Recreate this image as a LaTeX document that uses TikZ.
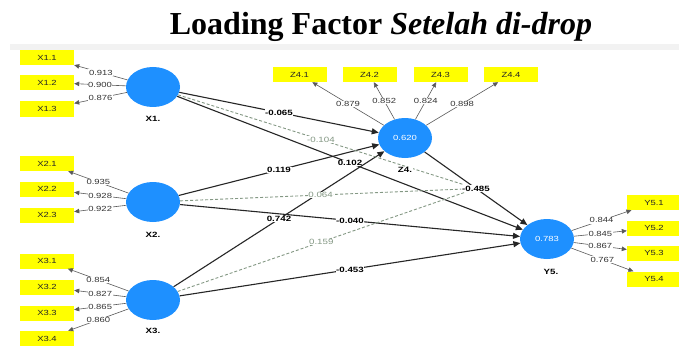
\documentclass[tikz,border=0pt]{standalone}
\usepackage{fontspec}
\setmainfont{Liberation Serif}
\newfontfamily\dsf[FakeStretch=1.28]{Liberation Sans}
\usetikzlibrary{shapes.geometric,arrows.meta}
\definecolor{lvblue}{HTML}{1E90FF}
\definecolor{mvyellow}{HTML}{FFFF00}
\definecolor{modgreen}{HTML}{849884}
\definecolor{ldgray}{HTML}{5A5A5A}
\definecolor{bandgray}{HTML}{F2F2F2}
\begin{document}
\begin{tikzpicture}[x=1pt,y=-1pt,
  lv/.style={ellipse, fill=lvblue, minimum width=54pt, minimum height=40pt, inner sep=0pt, text=white, font=\dsf\fontsize{7.4}{8}\selectfont},
  mv/.style={rectangle, fill=mvyellow, minimum width=54pt, minimum height=15pt, inner sep=0pt, text=black!85, font=\dsf\fontsize{7.4}{8}\selectfont},
  lvname/.style={inner sep=0.5pt, fill=white, font=\dsf\bfseries\fontsize{7.6}{8}\selectfont},
  load/.style={draw=ldgray, line width=0.6pt, -{Triangle[length=5pt,width=4.5pt]}},
  loadlbl/.style={fill=white, inner sep=0.6pt, text=black!80, font=\dsf\fontsize{7.4}{8}\selectfont},
  struct/.style={draw=black!85, line width=1.1pt, -{Triangle[length=7pt,width=6pt]}},
  structlbl/.style={fill=white, inner sep=0.6pt, text=black, font=\dsf\bfseries\fontsize{7.6}{8}\selectfont},
  moder/.style={draw=modgreen, line width=0.9pt, dash pattern=on 3pt off 2pt},
  moderlbl/.style={fill=white, inner sep=0.6pt, text=modgreen, font=\dsf\fontsize{7.6}{8}\selectfont}
]
\useasboundingbox (0,0) rectangle (679,350);
\fill[white] (0,0) rectangle (679,350);
\fill[bandgray] (10,44) rectangle (679,50);

\node[anchor=base] (title) at (381,35) {\fontsize{32}{35}\selectfont\bfseries Loading Factor \textit{Setelah di-drop}};

% latent variables
\node[lv] (X1) at (153,87) {};
\node[lv] (X2) at (153,202) {};
\node[lv] (X3) at (153,300) {};
\node[lv] (Z4) at (405,138) {0.620};
\node[lv] (Y5) at (547,239) {0.783};

% indicators
\node[mv] (X11) at (47,57.5) {X1.1};
\node[mv] (X12) at (47,82.5) {X1.2};
\node[mv] (X13) at (47,109) {X1.3};
\node[mv] (X21) at (47,163.5) {X2.1};
\node[mv] (X22) at (47,189) {X2.2};
\node[mv] (X23) at (47,215) {X2.3};
\node[mv] (X31) at (47,261) {X3.1};
\node[mv] (X32) at (47,287) {X3.2};
\node[mv] (X33) at (47,313) {X3.3};
\node[mv] (X34) at (47,338.5) {X3.4};
\node[mv] (Z41) at (299.5,74.5) {Z4.1};
\node[mv] (Z42) at (369.5,74.5) {Z4.2};
\node[mv] (Z43) at (440.5,74.5) {Z4.3};
\node[mv] (Z44) at (511,74.5) {Z4.4};
\node[mv] (Y51) at (654,202.5) {Y5.1};
\node[mv] (Y52) at (654,228) {Y5.2};
\node[mv] (Y53) at (654,253) {Y5.3};
\node[mv] (Y54) at (654,279) {Y5.4};

% loadings
\draw[load] (X1) -- node[loadlbl]{0.913} (X11);
\draw[load] (X1) -- node[loadlbl]{0.900} (X12);
\draw[load] (X1) -- node[loadlbl]{0.876} (X13);
\draw[load] (X2) -- node[loadlbl]{0.935} (X21);
\draw[load] (X2) -- node[loadlbl]{0.928} (X22);
\draw[load] (X2) -- node[loadlbl]{0.922} (X23);
\draw[load] (X3) -- node[loadlbl]{0.854} (X31);
\draw[load] (X3) -- node[loadlbl]{0.827} (X32);
\draw[load] (X3) -- node[loadlbl]{0.865} (X33);
\draw[load] (X3) -- node[loadlbl]{0.860} (X34);
\draw[load] (Z4) -- node[loadlbl]{0.879} (Z41);
\draw[load] (Z4) -- node[loadlbl]{0.852} (Z42);
\draw[load] (Z4) -- node[loadlbl]{0.824} (Z43);
\draw[load] (Z4) -- node[loadlbl]{0.898} (Z44);
\draw[load] (Y5) -- node[loadlbl]{0.844} (Y51);
\draw[load] (Y5) -- node[loadlbl]{0.845} (Y52);
\draw[load] (Y5) -- node[loadlbl]{0.867} (Y53);
\draw[load] (Y5) -- node[loadlbl]{0.767} (Y54);

% structural paths
\draw[struct] (X1) -- node[structlbl]{-0.065} (Z4);
\draw[struct] (X1) -- node[structlbl]{0.102} (Y5);
\draw[struct] (X2) -- node[structlbl]{0.119} (Z4);
\draw[struct] (X2) -- node[structlbl]{-0.040} (Y5);
\draw[struct] (X3) -- node[structlbl]{0.742} (Z4);
\draw[struct] (X3) -- node[structlbl]{-0.453} (Y5);
\draw[struct] (Z4) -- node[structlbl] (M) {-0.485} (Y5);

% moderating effects
\draw[moder] (X1) -- node[moderlbl]{-0.104} (M);
\draw[moder] (X2) -- node[moderlbl]{0.064} (M);
\draw[moder] (X3) -- node[moderlbl]{0.159} (M);

% names
\node[lvname] (nX1) at (153,119) {X1.};
\node[lvname] (nX2) at (153,235) {X2.};
\node[lvname] (nX3) at (153,331) {X3.};
\node[lvname] (nZ4) at (405,170) {Z4.};
\node[lvname] (nY5) at (551,272) {Y5.};
\end{tikzpicture}
\end{document}
